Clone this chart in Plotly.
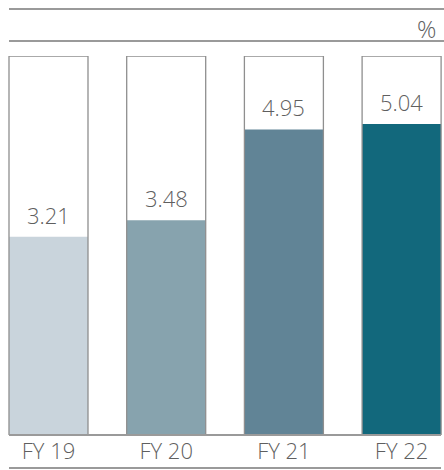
import plotly.graph_objects as go

categories = ["FY 19", "FY 20", "FY 21", "FY 22"]
values = [3.21, 3.48, 4.95, 5.04]
box_max = [6.14, 6.14, 6.14, 6.14]
colors = ["#c9d4dc", "#87a3ae", "#618496", "#12687c"]
labels = ["3.21", "3.48", "4.95", "5.04"]
unit = "%"

W, H = 444, 470
T, B = 56, 35
pos = list(range(len(categories)))
FONT = "Open Sans"
TXT = "#5f5f5f"
GRID = "#9a9a9a"
c0, step = 48.5, 117.7

fig = go.Figure()
fig.add_trace(go.Bar(x=pos, y=values, width=79 / step, marker=dict(color=colors, line=dict(width=0)),
                     hoverinfo="skip"))
fig.add_trace(go.Bar(x=pos, y=box_max, width=79 / step,
                     marker=dict(color="rgba(0,0,0,0)", line=dict(color="#8f8f8f", width=1.3)),
                     hoverinfo="skip"))

for i, (v, t) in enumerate(zip(values, labels)):
    fig.add_annotation(x=pos[i], y=v, text=t, showarrow=False, yanchor="bottom", yshift=5,
                       font=dict(family=FONT, size=22, color=TXT, weight=300))

plot_h = H - T - B
fig.add_annotation(x=1, xref="paper", xanchor="right", xshift=-6, y=(H - B - 28) / plot_h, yref="paper",
                   text=unit, showarrow=False, yanchor="middle",
                   font=dict(family=FONT, size=24, color=TXT, weight=300))

fig.update_layout(
    width=W, height=H, barmode="overlay", showlegend=False,
    margin=dict(l=0, r=0, t=T, b=B),
    plot_bgcolor="white", paper_bgcolor="white",
    xaxis=dict(range=[-c0 / step, (W - c0) / step], tickvals=pos, ticktext=categories,
               showgrid=False, zeroline=False, showline=False, ticks="",
               tickfont=dict(family=FONT, size=22, color=TXT, weight=300), ticklabelstandoff=1),
    yaxis=dict(range=[0, 6.14], visible=False, fixedrange=True),
)

def hline(ypx, x0px, x1px):
    fig.add_shape(type="line", xref="paper", yref="paper",
                  x0=x0px / W, x1=x1px / W,
                  y0=(H - B - ypx) / plot_h, y1=(H - B - ypx) / plot_h,
                  line=dict(color=GRID, width=2))

hline(9, 9, W)
hline(41, 9, W)
hline(435, 9, 441)
hline(468, 9, 441)

fig.write_html("out.html", config={"displayModeBar": False},
               post_script="document.body.style.margin='0';document.documentElement.style.overflow='hidden';")
